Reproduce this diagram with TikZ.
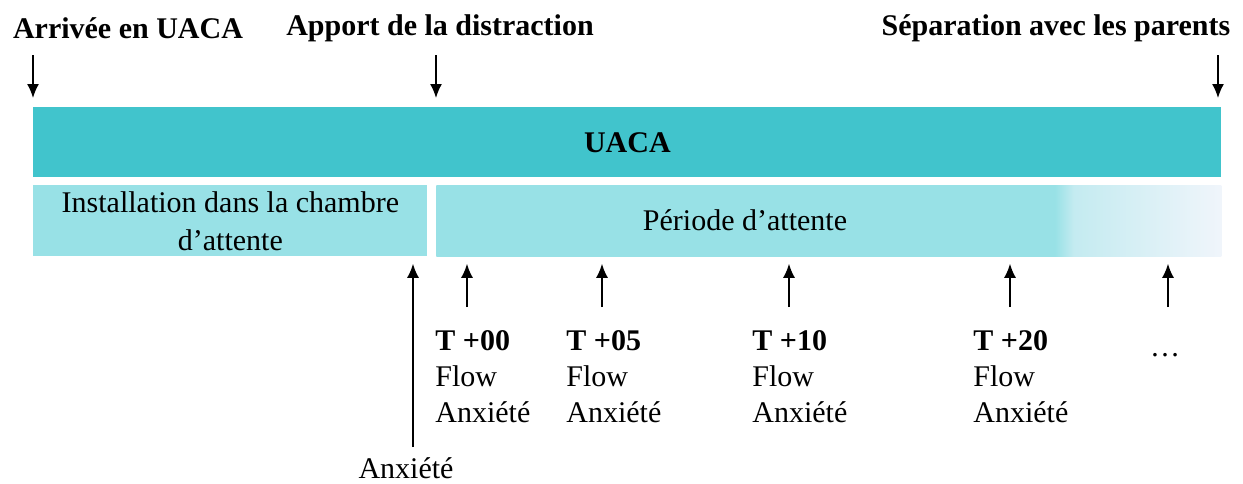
\documentclass[tikz,border=0pt]{standalone}
\usepackage{fontspec}
\setmainfont{Liberation Serif}
\usetikzlibrary{arrows.meta}
\definecolor{uacacol}{HTML}{41C4CC}
\definecolor{phasecol}{HTML}{98E1E6}
\definecolor{fadecol}{HTML}{F0F5FB}
\colorlet{midcol}{phasecol!50!fadecol}
\pgfdeclarehorizontalshading{attentefondu}{100bp}{color(0bp)=(phasecol); color(64.4bp)=(phasecol); color(65.6bp)=(midcol); color(75bp)=(fadecol); color(100bp)=(fadecol)}
\tikzset{
  txt/.style={font=\fontsize{15}{18}\selectfont, inner sep=0pt},
  titre/.style={inner sep=0pt, font=\fontsize{15}{18}\selectfont\bfseries},
  bande/.style={anchor=north west, inner sep=0pt},
  fl/.style={-{Latex[length=7pt,width=6pt]}, line width=0.8pt},
}
\begin{document}
\begin{tikzpicture}[x=0.5pt,y=-0.5pt]
        \useasboundingbox (0,0) rectangle (1243,483);
        \node[bande, fill=uacacol, minimum width=594pt, minimum height=35pt, titre] (uaca) at (33,107) {UACA};
        \node[bande, fill=phasecol, minimum width=197pt, minimum height=35.5pt, align=center, font=\fontsize{15}{19}\selectfont] (install) at (33,185) {Installation dans la chambre\\d’attente};
        \node[bande, shading=attentefondu, minimum width=392.5pt, minimum height=35.5pt] (attente) at (436,185) {};
        \node[txt] (periode) at (745,220) {Période d’attente};
        \node[titre] (arrivee) at (128,28) {Arrivée en UACA};
        \node[titre] (apport) at (440,28) {Apport de la distraction};
        \node[titre] (separation) at (1056,28) {Séparation avec les parents};
        \foreach \n/\x in {a/33, b/436, c/1218}
        {
            \coordinate (h\n) at (\x,55);
            \draw[fl, shorten >=4.5pt] (h\n) -- (h\n |- uaca.north);
        }
        \node[txt] (anxiete) at (406,468) {Anxiété};
        \coordinate (b0) at (413,447);
        \draw[fl, shorten >=3.5pt] (b0) -- (b0 |- install.south);
        \foreach \lx/\t [count=\i] in {435/00, 566/05, 752/10, 973/20}
        \node[txt, anchor=north west, align=left] (t\i) at (\lx,330) {\textbf{T +\t}\\Flow\\Anxiété};
        \node[txt] (suite) at (1165,355) {\dots};
        \foreach \x [count=\i] in {467, 602, 789, 1010, 1168}
        {
            \coordinate (b\i) at (\x,307);
            \draw[fl, shorten >=3.5pt] (b\i) -- (b\i |- attente.south);
        }
\end{tikzpicture}
\end{document}
